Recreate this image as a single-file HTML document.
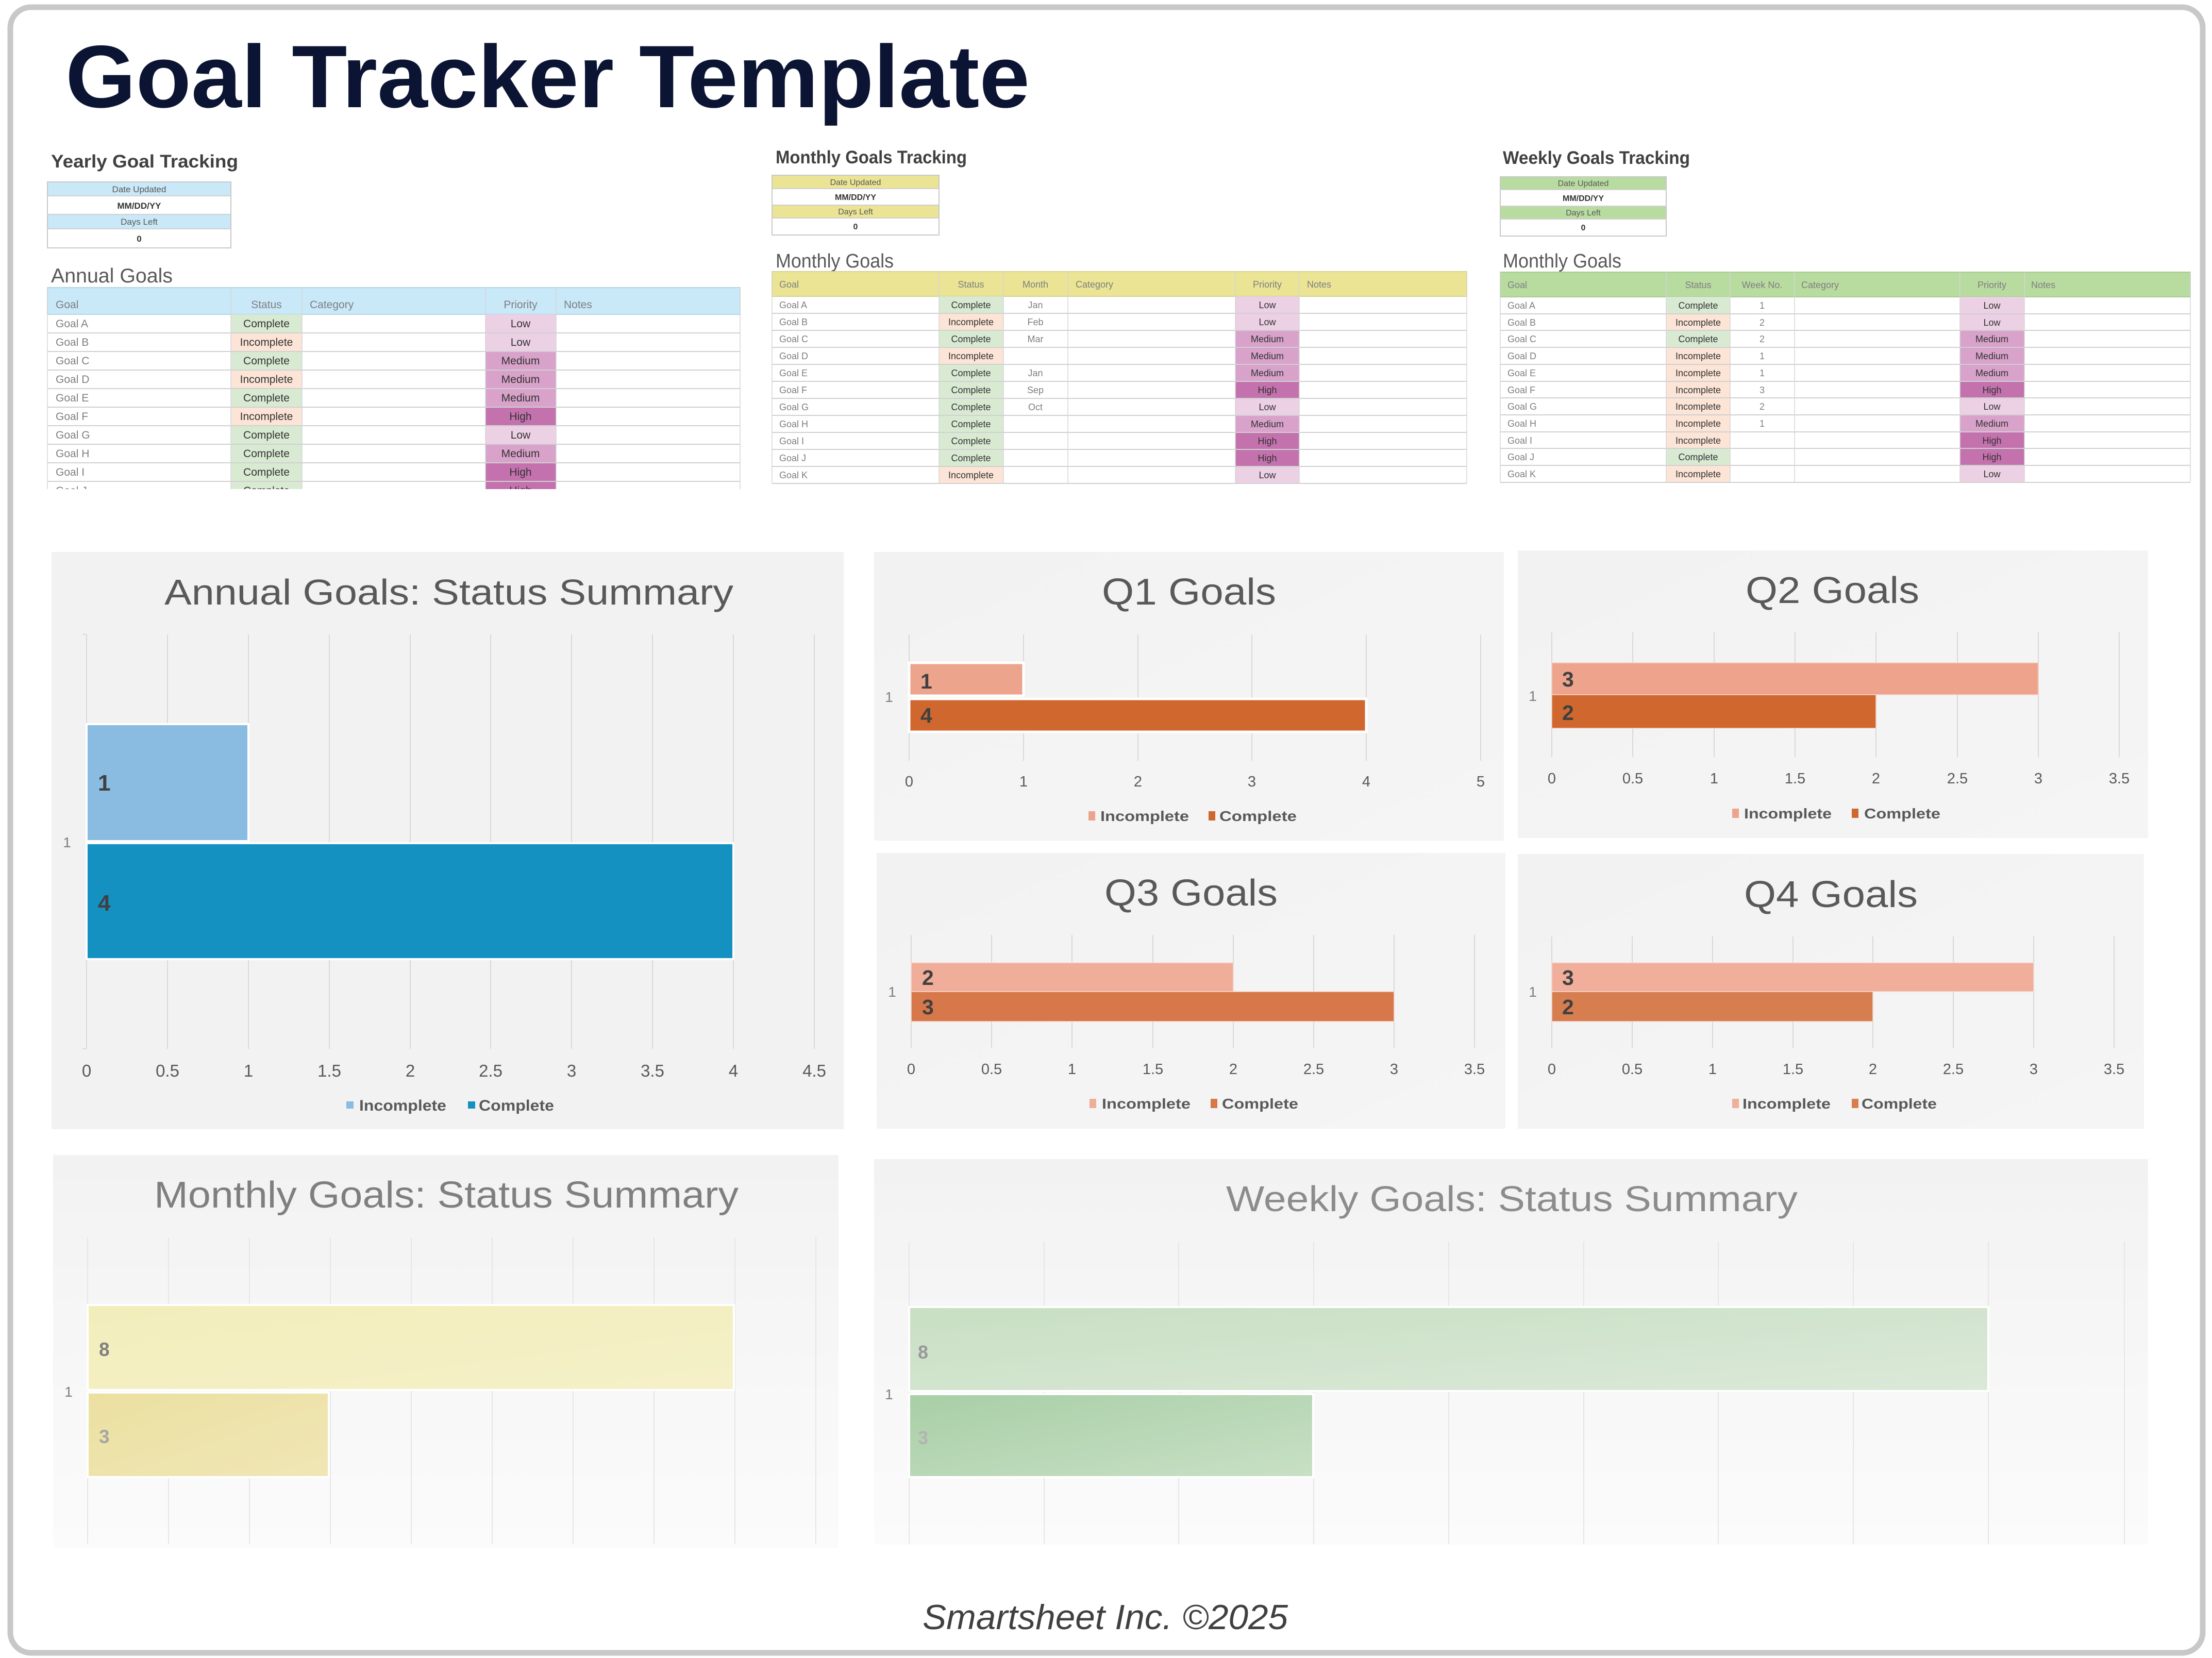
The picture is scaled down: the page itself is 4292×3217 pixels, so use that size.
<!DOCTYPE html>
<html><head><meta charset="utf-8"><style>
html,body{margin:0;padding:0;background:#fff}
svg{display:block}
text{font-family:"Liberation Sans",sans-serif}
.g{fill:#7f7f7f}.d{fill:#333}.c{text-anchor:middle}
.a{font-size:21px}.m{font-size:18px}.s{font-size:17px}
.cm{fill:#d9ead3}.in{fill:#fce4d6}.lo{fill:#ecd0e4}.me{fill:#d8a2ca}.hi{fill:#c472ae}
.gl{stroke:#d9d9d9;stroke-width:2}
.gl2{stroke:#e6e6e6;stroke-width:2}
.tk{font-size:33px;fill:#595959;text-anchor:middle}
.tq{font-size:29px;fill:#595959;text-anchor:middle}
.lg{font-size:30px;fill:#595959;font-weight:bold}
.lq{font-size:28px;fill:#595959;font-weight:bold}
.dl{font-weight:bold;fill:#404040}
.cat{font-size:28px;fill:#7f7f7f;text-anchor:middle}
.rl{stroke:#d0d0d0;stroke-width:2}
.vl{stroke:#d6d6d6;stroke-width:1.5}
</style></head><body>
<svg width="4292" height="3217" viewBox="0 0 4292 3217" xmlns="http://www.w3.org/2000/svg">
<defs>
<clipPath id="clipA"><rect x="0" y="0" width="1500" height="949"/></clipPath>
<linearGradient id="bgM" x1="0" y1="0" x2="0" y2="1"><stop offset="0" stop-color="#f2f2f2"/><stop offset="1" stop-color="#fbfbfb"/></linearGradient>
<linearGradient id="bgQ" x1="0" y1="0" x2="1" y2="1"><stop offset="0" stop-color="#f2f2f2"/><stop offset="1" stop-color="#f5f5f5"/></linearGradient>
<linearGradient id="mTop" x1="0" y1="0" x2="1" y2="1"><stop offset="0" stop-color="#f2eebb"/><stop offset="1" stop-color="#f5f0c8"/></linearGradient>
<linearGradient id="mBot" x1="0" y1="0" x2="1" y2="1"><stop offset="0" stop-color="#ebe0a0"/><stop offset="1" stop-color="#f0e6b6"/></linearGradient>
<linearGradient id="wTop" x1="0" y1="0" x2="1" y2="1"><stop offset="0" stop-color="#c8dfc3"/><stop offset="1" stop-color="#dbe9d8"/></linearGradient>
<linearGradient id="wBot" x1="0" y1="0" x2="1" y2="1"><stop offset="0" stop-color="#a8cfa6"/><stop offset="1" stop-color="#c8e0c5"/></linearGradient>
</defs>

<!-- outer border -->
<rect x="20" y="14" width="4254" height="3193" rx="40" ry="40" fill="#fff" stroke="#c8c8c8" stroke-width="11"/>

<!-- main title -->
<text x="127" y="208" font-size="172" font-weight="bold" fill="#0b1533" textLength="1871" lengthAdjust="spacingAndGlyphs">Goal Tracker Template</text>

<!-- ================= YEARLY ================= -->
<text x="99" y="325" font-size="35" font-weight="bold" fill="#404040" textLength="363" lengthAdjust="spacingAndGlyphs">Yearly Goal Tracking</text>
<rect x="92" y="353" width="356" height="27" fill="#c9e8f8"/>
<rect x="92" y="416" width="356" height="28" fill="#c9e8f8"/>
<rect x="92" y="353" width="356" height="128" fill="none" stroke="#c8c8c8" stroke-width="2"/>
<line x1="92" y1="380" x2="448" y2="380" class="rl"/><line x1="92" y1="416" x2="448" y2="416" class="rl"/><line x1="92" y1="444" x2="448" y2="444" class="rl"/>
<text x="270" y="373" class="s c" fill="#595959">Date Updated</text>
<text x="270" y="405" class="s c d" font-weight="bold">MM/DD/YY</text>
<text x="270" y="436" class="s c" fill="#595959">Days Left</text>
<text x="270" y="469" class="s c d" font-weight="bold">0</text>

<text x="99" y="548" font-size="39" fill="#595959" textLength="236" lengthAdjust="spacingAndGlyphs">Annual Goals</text>
<g clip-path="url(#clipA)">
<rect x="92" y="558" width="1344" height="52" fill="#c9e8f8" stroke="#b5d6e8" stroke-width="2"/>
<text x="108" y="598" class="a g">Goal</text>
<text x="517" y="598" class="a g c">Status</text>
<text x="601" y="598" class="a g">Category</text>
<text x="1010" y="598" class="a g c">Priority</text>
<text x="1094" y="598" class="a g">Notes</text>
<!-- rows -->
<rect x="448" y="610" width="138" height="36" class="cm"/><rect x="942" y="610" width="137" height="36" class="lo"/>
<rect x="448" y="646" width="138" height="36" class="in"/><rect x="942" y="646" width="137" height="36" class="lo"/>
<rect x="448" y="682" width="138" height="36" class="cm"/><rect x="942" y="682" width="137" height="36" class="me"/>
<rect x="448" y="718" width="138" height="36" class="in"/><rect x="942" y="718" width="137" height="36" class="me"/>
<rect x="448" y="754" width="138" height="36" class="cm"/><rect x="942" y="754" width="137" height="36" class="me"/>
<rect x="448" y="790" width="138" height="36" class="in"/><rect x="942" y="790" width="137" height="36" class="hi"/>
<rect x="448" y="826" width="138" height="36" class="cm"/><rect x="942" y="826" width="137" height="36" class="lo"/>
<rect x="448" y="862" width="138" height="36" class="cm"/><rect x="942" y="862" width="137" height="36" class="me"/>
<rect x="448" y="898" width="138" height="36" class="cm"/><rect x="942" y="898" width="137" height="36" class="hi"/>
<rect x="448" y="934" width="138" height="36" class="cm"/><rect x="942" y="934" width="137" height="36" class="hi"/>
<g class="a">
<text x="108" y="635" class="a g">Goal A</text><text x="517" y="635" class="a d c">Complete</text><text x="1010" y="635" class="a d c">Low</text>
<text x="108" y="671" class="a g">Goal B</text><text x="517" y="671" class="a d c">Incomplete</text><text x="1010" y="671" class="a d c">Low</text>
<text x="108" y="707" class="a g">Goal C</text><text x="517" y="707" class="a d c">Complete</text><text x="1010" y="707" class="a d c">Medium</text>
<text x="108" y="743" class="a g">Goal D</text><text x="517" y="743" class="a d c">Incomplete</text><text x="1010" y="743" class="a d c">Medium</text>
<text x="108" y="779" class="a g">Goal E</text><text x="517" y="779" class="a d c">Complete</text><text x="1010" y="779" class="a d c">Medium</text>
<text x="108" y="815" class="a g">Goal F</text><text x="517" y="815" class="a d c">Incomplete</text><text x="1010" y="815" class="a d c">High</text>
<text x="108" y="851" class="a g">Goal G</text><text x="517" y="851" class="a d c">Complete</text><text x="1010" y="851" class="a d c">Low</text>
<text x="108" y="887" class="a g">Goal H</text><text x="517" y="887" class="a d c">Complete</text><text x="1010" y="887" class="a d c">Medium</text>
<text x="108" y="923" class="a g">Goal I</text><text x="517" y="923" class="a d c">Complete</text><text x="1010" y="923" class="a d c">High</text>
<text x="108" y="959" class="a g">Goal J</text><text x="517" y="959" class="a d c">Complete</text><text x="1010" y="959" class="a d c">High</text>
</g>
<line x1="92" y1="646" x2="1436" y2="646" class="rl"/><line x1="92" y1="682" x2="1436" y2="682" class="rl"/>
<line x1="92" y1="718" x2="1436" y2="718" class="rl"/><line x1="92" y1="754" x2="1436" y2="754" class="rl"/>
<line x1="92" y1="790" x2="1436" y2="790" class="rl"/><line x1="92" y1="826" x2="1436" y2="826" class="rl"/>
<line x1="92" y1="862" x2="1436" y2="862" class="rl"/><line x1="92" y1="898" x2="1436" y2="898" class="rl"/>
<line x1="92" y1="934" x2="1436" y2="934" class="rl"/>
<line x1="92" y1="558" x2="92" y2="970" class="vl"/><line x1="448" y1="558" x2="448" y2="970" class="vl"/>
<line x1="586" y1="558" x2="586" y2="970" class="vl"/><line x1="942" y1="558" x2="942" y2="970" class="vl"/>
<line x1="1079" y1="558" x2="1079" y2="970" class="vl"/><line x1="1436" y1="558" x2="1436" y2="970" class="vl"/>
</g>

<!-- ================= MONTHLY ================= -->
<text x="1505" y="317" font-size="35" font-weight="bold" fill="#404040" textLength="371" lengthAdjust="spacingAndGlyphs">Monthly Goals Tracking</text>
<rect x="1498" y="340" width="324" height="26" fill="#eae494"/>
<rect x="1498" y="398" width="324" height="25" fill="#eae494"/>
<rect x="1498" y="340" width="324" height="116" fill="none" stroke="#c8c8c8" stroke-width="2"/>
<line x1="1498" y1="366" x2="1822" y2="366" class="rl"/><line x1="1498" y1="398" x2="1822" y2="398" class="rl"/><line x1="1498" y1="423" x2="1822" y2="423" class="rl"/>
<text x="1660" y="359" font-size="16" class="c" fill="#595959">Date Updated</text>
<text x="1660" y="388" font-size="16" class="c d" font-weight="bold">MM/DD/YY</text>
<text x="1660" y="416" font-size="16" class="c" fill="#595959">Days Left</text>
<text x="1660" y="445" font-size="16" class="c d" font-weight="bold">0</text>

<text x="1505" y="519" font-size="38" fill="#595959" textLength="229" lengthAdjust="spacingAndGlyphs">Monthly Goals</text>
<rect x="1498" y="527" width="1348" height="48" fill="#eae494" stroke="#d8d290" stroke-width="2"/>
<text x="1512" y="558" class="m g">Goal</text>
<text x="1884" y="558" class="m g c">Status</text>
<text x="2009" y="558" class="m g c">Month</text>
<text x="2087" y="558" class="m g">Category</text>
<text x="2459" y="558" class="m g c">Priority</text>
<text x="2536" y="558" class="m g">Notes</text>

<rect x="1822" y="575" width="125" height="33" class="cm"/><rect x="2397" y="575" width="124" height="33" class="lo"/>
<rect x="1822" y="608" width="125" height="33" class="in"/><rect x="2397" y="608" width="124" height="33" class="lo"/>
<rect x="1822" y="641" width="125" height="33" class="cm"/><rect x="2397" y="641" width="124" height="33" class="me"/>
<rect x="1822" y="674" width="125" height="33" class="in"/><rect x="2397" y="674" width="124" height="33" class="me"/>
<rect x="1822" y="707" width="125" height="33" class="cm"/><rect x="2397" y="707" width="124" height="33" class="me"/>
<rect x="1822" y="740" width="125" height="33" class="cm"/><rect x="2397" y="740" width="124" height="33" class="hi"/>
<rect x="1822" y="773" width="125" height="33" class="cm"/><rect x="2397" y="773" width="124" height="33" class="lo"/>
<rect x="1822" y="806" width="125" height="33" class="cm"/><rect x="2397" y="806" width="124" height="33" class="me"/>
<rect x="1822" y="839" width="125" height="33" class="cm"/><rect x="2397" y="839" width="124" height="33" class="hi"/>
<rect x="1822" y="872" width="125" height="33" class="cm"/><rect x="2397" y="872" width="124" height="33" class="hi"/>
<rect x="1822" y="905" width="125" height="33" class="in"/><rect x="2397" y="905" width="124" height="33" class="lo"/>

<text x="1512" y="598" class="m g">Goal A</text><text x="1884" y="598" class="m d c">Complete</text><text x="2009" y="598" class="m g c">Jan</text><text x="2459" y="598" class="m d c">Low</text>
<text x="1512" y="631" class="m g">Goal B</text><text x="1884" y="631" class="m d c">Incomplete</text><text x="2009" y="631" class="m g c">Feb</text><text x="2459" y="631" class="m d c">Low</text>
<text x="1512" y="664" class="m g">Goal C</text><text x="1884" y="664" class="m d c">Complete</text><text x="2009" y="664" class="m g c">Mar</text><text x="2459" y="664" class="m d c">Medium</text>
<text x="1512" y="697" class="m g">Goal D</text><text x="1884" y="697" class="m d c">Incomplete</text><text x="2459" y="697" class="m d c">Medium</text>
<text x="1512" y="730" class="m g">Goal E</text><text x="1884" y="730" class="m d c">Complete</text><text x="2009" y="730" class="m g c">Jan</text><text x="2459" y="730" class="m d c">Medium</text>
<text x="1512" y="763" class="m g">Goal F</text><text x="1884" y="763" class="m d c">Complete</text><text x="2009" y="763" class="m g c">Sep</text><text x="2459" y="763" class="m d c">High</text>
<text x="1512" y="796" class="m g">Goal G</text><text x="1884" y="796" class="m d c">Complete</text><text x="2009" y="796" class="m g c">Oct</text><text x="2459" y="796" class="m d c">Low</text>
<text x="1512" y="829" class="m g">Goal H</text><text x="1884" y="829" class="m d c">Complete</text><text x="2459" y="829" class="m d c">Medium</text>
<text x="1512" y="862" class="m g">Goal I</text><text x="1884" y="862" class="m d c">Complete</text><text x="2459" y="862" class="m d c">High</text>
<text x="1512" y="895" class="m g">Goal J</text><text x="1884" y="895" class="m d c">Complete</text><text x="2459" y="895" class="m d c">High</text>
<text x="1512" y="928" class="m g">Goal K</text><text x="1884" y="928" class="m d c">Incomplete</text><text x="2459" y="928" class="m d c">Low</text>

<line x1="1498" y1="608" x2="2846" y2="608" class="rl"/><line x1="1498" y1="641" x2="2846" y2="641" class="rl"/>
<line x1="1498" y1="674" x2="2846" y2="674" class="rl"/><line x1="1498" y1="707" x2="2846" y2="707" class="rl"/>
<line x1="1498" y1="740" x2="2846" y2="740" class="rl"/><line x1="1498" y1="773" x2="2846" y2="773" class="rl"/>
<line x1="1498" y1="806" x2="2846" y2="806" class="rl"/><line x1="1498" y1="839" x2="2846" y2="839" class="rl"/>
<line x1="1498" y1="872" x2="2846" y2="872" class="rl"/><line x1="1498" y1="905" x2="2846" y2="905" class="rl"/>
<line x1="1498" y1="938" x2="2846" y2="938" class="rl"/>
<line x1="1498" y1="527" x2="1498" y2="938" class="vl"/><line x1="1822" y1="527" x2="1822" y2="938" class="vl"/>
<line x1="1947" y1="527" x2="1947" y2="938" class="vl"/><line x1="2072" y1="527" x2="2072" y2="938" class="vl"/>
<line x1="2397" y1="527" x2="2397" y2="938" class="vl"/><line x1="2521" y1="527" x2="2521" y2="938" class="vl"/>
<line x1="2846" y1="527" x2="2846" y2="938" class="vl"/>

<!-- ================= WEEKLY ================= -->
<text x="2916" y="318" font-size="35" font-weight="bold" fill="#404040" textLength="363" lengthAdjust="spacingAndGlyphs">Weekly Goals Tracking</text>
<rect x="2911" y="343" width="322" height="25" fill="#b8dba0"/>
<rect x="2911" y="400" width="322" height="25" fill="#b8dba0"/>
<rect x="2911" y="343" width="322" height="115" fill="none" stroke="#c8c8c8" stroke-width="2"/>
<line x1="2911" y1="368" x2="3233" y2="368" class="rl"/><line x1="2911" y1="400" x2="3233" y2="400" class="rl"/><line x1="2911" y1="425" x2="3233" y2="425" class="rl"/>
<text x="3072" y="361" font-size="16" class="c" fill="#595959">Date Updated</text>
<text x="3072" y="390" font-size="16" class="c d" font-weight="bold">MM/DD/YY</text>
<text x="3072" y="418" font-size="16" class="c" fill="#595959">Days Left</text>
<text x="3072" y="447" font-size="16" class="c d" font-weight="bold">0</text>

<text x="2916" y="519" font-size="38" fill="#595959" textLength="230" lengthAdjust="spacingAndGlyphs">Monthly Goals</text>
<rect x="2911" y="528" width="1339" height="48" fill="#b8dba0" stroke="#a8cc92" stroke-width="2"/>
<text x="2925" y="559" class="m g">Goal</text>
<text x="3295" y="559" class="m g c">Status</text>
<text x="3419" y="559" class="m g c">Week No.</text>
<text x="3495" y="559" class="m g">Category</text>
<text x="3865" y="559" class="m g c">Priority</text>
<text x="3941" y="559" class="m g">Notes</text>

<rect x="3233" y="576" width="124" height="33" class="cm"/><rect x="3803" y="576" width="125" height="33" class="lo"/>
<rect x="3233" y="609" width="124" height="32" class="in"/><rect x="3803" y="609" width="125" height="32" class="lo"/>
<rect x="3233" y="641" width="124" height="33" class="cm"/><rect x="3803" y="641" width="125" height="33" class="me"/>
<rect x="3233" y="674" width="124" height="33" class="in"/><rect x="3803" y="674" width="125" height="33" class="me"/>
<rect x="3233" y="707" width="124" height="33" class="in"/><rect x="3803" y="707" width="125" height="33" class="me"/>
<rect x="3233" y="740" width="124" height="32" class="in"/><rect x="3803" y="740" width="125" height="32" class="hi"/>
<rect x="3233" y="772" width="124" height="33" class="in"/><rect x="3803" y="772" width="125" height="33" class="lo"/>
<rect x="3233" y="805" width="124" height="33" class="in"/><rect x="3803" y="805" width="125" height="33" class="me"/>
<rect x="3233" y="838" width="124" height="32" class="in"/><rect x="3803" y="838" width="125" height="32" class="hi"/>
<rect x="3233" y="870" width="124" height="33" class="cm"/><rect x="3803" y="870" width="125" height="33" class="hi"/>
<rect x="3233" y="903" width="124" height="33" class="in"/><rect x="3803" y="903" width="125" height="33" class="lo"/>

<text x="2925" y="599" class="m g">Goal A</text><text x="3295" y="599" class="m d c">Complete</text><text x="3419" y="599" class="m g c">1</text><text x="3865" y="599" class="m d c">Low</text>
<text x="2925" y="632" class="m g">Goal B</text><text x="3295" y="632" class="m d c">Incomplete</text><text x="3419" y="632" class="m g c">2</text><text x="3865" y="632" class="m d c">Low</text>
<text x="2925" y="664" class="m g">Goal C</text><text x="3295" y="664" class="m d c">Complete</text><text x="3419" y="664" class="m g c">2</text><text x="3865" y="664" class="m d c">Medium</text>
<text x="2925" y="697" class="m g">Goal D</text><text x="3295" y="697" class="m d c">Incomplete</text><text x="3419" y="697" class="m g c">1</text><text x="3865" y="697" class="m d c">Medium</text>
<text x="2925" y="730" class="m g">Goal E</text><text x="3295" y="730" class="m d c">Incomplete</text><text x="3419" y="730" class="m g c">1</text><text x="3865" y="730" class="m d c">Medium</text>
<text x="2925" y="763" class="m g">Goal F</text><text x="3295" y="763" class="m d c">Incomplete</text><text x="3419" y="763" class="m g c">3</text><text x="3865" y="763" class="m d c">High</text>
<text x="2925" y="795" class="m g">Goal G</text><text x="3295" y="795" class="m d c">Incomplete</text><text x="3419" y="795" class="m g c">2</text><text x="3865" y="795" class="m d c">Low</text>
<text x="2925" y="828" class="m g">Goal H</text><text x="3295" y="828" class="m d c">Incomplete</text><text x="3419" y="828" class="m g c">1</text><text x="3865" y="828" class="m d c">Medium</text>
<text x="2925" y="861" class="m g">Goal I</text><text x="3295" y="861" class="m d c">Incomplete</text><text x="3865" y="861" class="m d c">High</text>
<text x="2925" y="893" class="m g">Goal J</text><text x="3295" y="893" class="m d c">Complete</text><text x="3865" y="893" class="m d c">High</text>
<text x="2925" y="926" class="m g">Goal K</text><text x="3295" y="926" class="m d c">Incomplete</text><text x="3865" y="926" class="m d c">Low</text>

<line x1="2911" y1="609" x2="4250" y2="609" class="rl"/><line x1="2911" y1="641" x2="4250" y2="641" class="rl"/>
<line x1="2911" y1="674" x2="4250" y2="674" class="rl"/><line x1="2911" y1="707" x2="4250" y2="707" class="rl"/>
<line x1="2911" y1="740" x2="4250" y2="740" class="rl"/><line x1="2911" y1="772" x2="4250" y2="772" class="rl"/>
<line x1="2911" y1="805" x2="4250" y2="805" class="rl"/><line x1="2911" y1="838" x2="4250" y2="838" class="rl"/>
<line x1="2911" y1="870" x2="4250" y2="870" class="rl"/><line x1="2911" y1="903" x2="4250" y2="903" class="rl"/>
<line x1="2911" y1="936" x2="4250" y2="936" class="rl"/>
<line x1="2911" y1="528" x2="2911" y2="936" class="vl"/><line x1="3233" y1="528" x2="3233" y2="936" class="vl"/>
<line x1="3357" y1="528" x2="3357" y2="936" class="vl"/><line x1="3482" y1="528" x2="3482" y2="936" class="vl"/>
<line x1="3803" y1="528" x2="3803" y2="936" class="vl"/><line x1="3928" y1="528" x2="3928" y2="936" class="vl"/>
<line x1="4250" y1="528" x2="4250" y2="936" class="vl"/>

<!-- ================= ANNUAL CHART ================= -->
<rect x="100" y="1071" width="1537" height="1120" fill="#f2f2f2"/>
<text x="319" y="1173" font-size="70" fill="#595959" textLength="1104" lengthAdjust="spacingAndGlyphs">Annual Goals: Status Summary</text>
<g class="gl">
<line x1="168" y1="1231" x2="168" y2="2035"/><line x1="325" y1="1231" x2="325" y2="2035"/>
<line x1="482" y1="1231" x2="482" y2="2035"/><line x1="639" y1="1231" x2="639" y2="2035"/>
<line x1="796" y1="1231" x2="796" y2="2035"/><line x1="952" y1="1231" x2="952" y2="2035"/>
<line x1="1109" y1="1231" x2="1109" y2="2035"/><line x1="1266" y1="1231" x2="1266" y2="2035"/>
<line x1="1423" y1="1231" x2="1423" y2="2035"/><line x1="1580" y1="1231" x2="1580" y2="2035"/>
<line x1="160" y1="1231" x2="168" y2="1231"/><line x1="160" y1="2035" x2="168" y2="2035"/>
</g>
<rect x="168" y="1405" width="314" height="227" fill="#8abbe0" stroke="#fff" stroke-width="4"/>
<rect x="168" y="1636" width="1255" height="225" fill="#1591c1" stroke="#fff" stroke-width="4"/>
<text x="190" y="1534" font-size="44" class="dl">1</text>
<text x="190" y="1767" font-size="44" class="dl">4</text>
<text x="130" y="1644" class="cat">1</text>
<text x="168" y="2089" class="tk">0</text><text x="325" y="2089" class="tk">0.5</text>
<text x="482" y="2089" class="tk">1</text><text x="639" y="2089" class="tk">1.5</text>
<text x="796" y="2089" class="tk">2</text><text x="952" y="2089" class="tk">2.5</text>
<text x="1109" y="2089" class="tk">3</text><text x="1266" y="2089" class="tk">3.5</text>
<text x="1423" y="2089" class="tk">4</text><text x="1580" y="2089" class="tk">4.5</text>
<rect x="672" y="2137" width="14" height="14" fill="#8abbe0"/>
<text x="697" y="2155" class="lg" textLength="169" lengthAdjust="spacingAndGlyphs">Incomplete</text>
<rect x="908" y="2137" width="14" height="14" fill="#1591c1"/>
<text x="929" y="2155" class="lg" textLength="146" lengthAdjust="spacingAndGlyphs">Complete</text>

<!-- ================= Q1 ================= -->
<rect x="1696" y="1071" width="1222" height="560" fill="url(#bgQ)"/>
<text x="2138" y="1173" font-size="72" fill="#595959" textLength="338" lengthAdjust="spacingAndGlyphs">Q1 Goals</text>
<g class="gl">
<line x1="1764" y1="1231" x2="1764" y2="1476"/><line x1="1986" y1="1231" x2="1986" y2="1476"/>
<line x1="2208" y1="1231" x2="2208" y2="1476"/><line x1="2429" y1="1231" x2="2429" y2="1476"/>
<line x1="2651" y1="1231" x2="2651" y2="1476"/><line x1="2873" y1="1231" x2="2873" y2="1476"/>
</g>
<rect x="1764" y="1286" width="222" height="64" fill="#eda48d" stroke="#fff" stroke-width="5"/>
<rect x="1764" y="1356" width="887" height="64" fill="#d0672f" stroke="#fff" stroke-width="5"/>
<text x="1786" y="1336" font-size="41" class="dl">1</text>
<text x="1786" y="1402" font-size="41" class="dl">4</text>
<text x="1725" y="1362" class="cat">1</text>
<text x="1764" y="1526" class="tq">0</text><text x="1986" y="1526" class="tq">1</text>
<text x="2208" y="1526" class="tq">2</text><text x="2429" y="1526" class="tq">3</text>
<text x="2651" y="1526" class="tq">4</text><text x="2873" y="1526" class="tq">5</text>
<rect x="2112" y="1574" width="13" height="18" fill="#eda48d"/>
<text x="2135" y="1593" class="lq" textLength="172" lengthAdjust="spacingAndGlyphs">Incomplete</text>
<rect x="2345" y="1574" width="13" height="18" fill="#d0672f"/>
<text x="2366" y="1593" class="lq" textLength="150" lengthAdjust="spacingAndGlyphs">Complete</text>

<!-- ================= Q2 ================= -->
<rect x="2945" y="1068" width="1223" height="558" fill="url(#bgQ)"/>
<text x="3387" y="1170" font-size="72" fill="#595959" textLength="337" lengthAdjust="spacingAndGlyphs">Q2 Goals</text>
<g class="gl">
<line x1="3011" y1="1227" x2="3011" y2="1469"/><line x1="3168" y1="1227" x2="3168" y2="1469"/>
<line x1="3326" y1="1227" x2="3326" y2="1469"/><line x1="3483" y1="1227" x2="3483" y2="1469"/>
<line x1="3640" y1="1227" x2="3640" y2="1469"/><line x1="3798" y1="1227" x2="3798" y2="1469"/>
<line x1="3955" y1="1227" x2="3955" y2="1469"/><line x1="4112" y1="1227" x2="4112" y2="1469"/>
</g>
<rect x="3011" y="1286" width="944" height="62" fill="#eea48c" stroke="#f6d6cb" stroke-width="1.5"/>
<rect x="3011" y="1348" width="629" height="65" fill="#d0672f" stroke="#f6d6cb" stroke-width="1.5"/>
<text x="3031" y="1332" font-size="41" class="dl">3</text>
<text x="3031" y="1397" font-size="41" class="dl">2</text>
<text x="2974" y="1360" class="cat">1</text>
<text x="3011" y="1520" class="tq">0</text><text x="3168" y="1520" class="tq">0.5</text>
<text x="3326" y="1520" class="tq">1</text><text x="3483" y="1520" class="tq">1.5</text>
<text x="3640" y="1520" class="tq">2</text><text x="3798" y="1520" class="tq">2.5</text>
<text x="3955" y="1520" class="tq">3</text><text x="4112" y="1520" class="tq">3.5</text>
<rect x="3361" y="1569" width="13" height="18" fill="#eea48c"/>
<text x="3384" y="1588" class="lq" textLength="170" lengthAdjust="spacingAndGlyphs">Incomplete</text>
<rect x="3593" y="1569" width="13" height="18" fill="#d0672f"/>
<text x="3617" y="1588" class="lq" textLength="148" lengthAdjust="spacingAndGlyphs">Complete</text>

<!-- ================= Q3 ================= -->
<rect x="1701" y="1655" width="1220" height="535" fill="url(#bgQ)"/>
<text x="2143" y="1757" font-size="72" fill="#595959" textLength="336" lengthAdjust="spacingAndGlyphs">Q3 Goals</text>
<g class="gl">
<line x1="1768" y1="1814" x2="1768" y2="2033"/><line x1="1924" y1="1814" x2="1924" y2="2033"/>
<line x1="2080" y1="1814" x2="2080" y2="2033"/><line x1="2237" y1="1814" x2="2237" y2="2033"/>
<line x1="2393" y1="1814" x2="2393" y2="2033"/><line x1="2549" y1="1814" x2="2549" y2="2033"/>
<line x1="2705" y1="1814" x2="2705" y2="2033"/><line x1="2861" y1="1814" x2="2861" y2="2033"/>
</g>
<rect x="1768" y="1868" width="625" height="56" fill="#f0ad99" stroke="#f7ddd4" stroke-width="1.5"/>
<rect x="1768" y="1924" width="937" height="58" fill="#d7784a" stroke="#f7ddd4" stroke-width="1.5"/>
<text x="1789" y="1911" font-size="41" class="dl">2</text>
<text x="1789" y="1968" font-size="41" class="dl">3</text>
<text x="1731" y="1934" class="cat">1</text>
<text x="1768" y="2084" class="tq">0</text><text x="1924" y="2084" class="tq">0.5</text>
<text x="2080" y="2084" class="tq">1</text><text x="2237" y="2084" class="tq">1.5</text>
<text x="2393" y="2084" class="tq">2</text><text x="2549" y="2084" class="tq">2.5</text>
<text x="2705" y="2084" class="tq">3</text><text x="2861" y="2084" class="tq">3.5</text>
<rect x="2114" y="2132" width="13" height="18" fill="#f0ad99"/>
<text x="2138" y="2151" class="lq" textLength="172" lengthAdjust="spacingAndGlyphs">Incomplete</text>
<rect x="2349" y="2132" width="13" height="18" fill="#d7784a"/>
<text x="2371" y="2151" class="lq" textLength="148" lengthAdjust="spacingAndGlyphs">Complete</text>

<!-- ================= Q4 ================= -->
<rect x="2945" y="1657" width="1215" height="533" fill="url(#bgQ)"/>
<text x="3384" y="1760" font-size="72" fill="#595959" textLength="337" lengthAdjust="spacingAndGlyphs">Q4 Goals</text>
<g class="gl">
<line x1="3011" y1="1817" x2="3011" y2="2033"/><line x1="3167" y1="1817" x2="3167" y2="2033"/>
<line x1="3323" y1="1817" x2="3323" y2="2033"/><line x1="3479" y1="1817" x2="3479" y2="2033"/>
<line x1="3634" y1="1817" x2="3634" y2="2033"/><line x1="3790" y1="1817" x2="3790" y2="2033"/>
<line x1="3946" y1="1817" x2="3946" y2="2033"/><line x1="4102" y1="1817" x2="4102" y2="2033"/>
</g>
<rect x="3011" y="1868" width="935" height="56" fill="#f0ae9b" stroke="#f7ddd4" stroke-width="1.5"/>
<rect x="3011" y="1924" width="623" height="58" fill="#d77e51" stroke="#f7ddd4" stroke-width="1.5"/>
<text x="3031" y="1911" font-size="41" class="dl">3</text>
<text x="3031" y="1968" font-size="41" class="dl">2</text>
<text x="2974" y="1934" class="cat">1</text>
<text x="3011" y="2084" class="tq">0</text><text x="3167" y="2084" class="tq">0.5</text>
<text x="3323" y="2084" class="tq">1</text><text x="3479" y="2084" class="tq">1.5</text>
<text x="3634" y="2084" class="tq">2</text><text x="3790" y="2084" class="tq">2.5</text>
<text x="3946" y="2084" class="tq">3</text><text x="4102" y="2084" class="tq">3.5</text>
<rect x="3361" y="2132" width="13" height="18" fill="#f0ae9b"/>
<text x="3381" y="2151" class="lq" textLength="171" lengthAdjust="spacingAndGlyphs">Incomplete</text>
<rect x="3593" y="2132" width="13" height="18" fill="#d77e51"/>
<text x="3612" y="2151" class="lq" textLength="146" lengthAdjust="spacingAndGlyphs">Complete</text>

<!-- ================= MONTHLY SUMMARY ================= -->
<rect x="103" y="2241" width="1524" height="762" fill="url(#bgM)"/>
<text x="299" y="2343" font-size="72" fill="#7f7f7f" textLength="1134" lengthAdjust="spacingAndGlyphs">Monthly Goals: Status Summary</text>
<g class="gl2">
<line x1="170" y1="2401" x2="170" y2="2996"/><line x1="327" y1="2401" x2="327" y2="2996"/>
<line x1="484" y1="2401" x2="484" y2="2996"/><line x1="641" y1="2401" x2="641" y2="2996"/>
<line x1="798" y1="2401" x2="798" y2="2996"/><line x1="955" y1="2401" x2="955" y2="2996"/>
<line x1="1112" y1="2401" x2="1112" y2="2996"/><line x1="1269" y1="2401" x2="1269" y2="2996"/>
<line x1="1426" y1="2401" x2="1426" y2="2996"/><line x1="1583" y1="2401" x2="1583" y2="2996"/>
</g>
<rect x="170" y="2532" width="1254" height="165" fill="url(#mTop)" stroke="#fff" stroke-width="4"/>
<rect x="170" y="2702" width="468" height="164" fill="url(#mBot)" stroke="#fff" stroke-width="4"/>
<text x="192" y="2631" font-size="37" font-weight="bold" fill="#808080">8</text>
<text x="192" y="2800" font-size="37" font-weight="bold" fill="#a6a6a6">3</text>
<text x="133" y="2710" class="cat" fill="#a0a0a0">1</text>

<!-- ================= WEEKLY SUMMARY ================= -->
<rect x="1696" y="2249" width="2472" height="748" fill="url(#bgM)"/>
<text x="2379" y="2350" font-size="70" fill="#8c8c8c" textLength="1109" lengthAdjust="spacingAndGlyphs">Weekly Goals: Status Summary</text>
<g class="gl2">
<line x1="1764" y1="2409" x2="1764" y2="2996"/><line x1="2026" y1="2409" x2="2026" y2="2996"/>
<line x1="2287" y1="2409" x2="2287" y2="2996"/><line x1="2549" y1="2409" x2="2549" y2="2996"/>
<line x1="2811" y1="2409" x2="2811" y2="2996"/><line x1="3073" y1="2409" x2="3073" y2="2996"/>
<line x1="3334" y1="2409" x2="3334" y2="2996"/><line x1="3596" y1="2409" x2="3596" y2="2996"/>
<line x1="3858" y1="2409" x2="3858" y2="2996"/><line x1="4122" y1="2409" x2="4122" y2="2996"/>
</g>
<rect x="1764" y="2536" width="2094" height="163" fill="url(#wTop)" stroke="#fff" stroke-width="4"/>
<rect x="1764" y="2705" width="784" height="161" fill="url(#wBot)" stroke="#fff" stroke-width="4"/>
<text x="1781" y="2636" font-size="36" font-weight="bold" fill="#999">8</text>
<text x="1781" y="2802" font-size="36" font-weight="bold" fill="#b3b3b3">3</text>
<text x="1725" y="2715" class="cat" fill="#a6a6a6">1</text>

<!-- footer -->
<text x="1790" y="3161" font-size="68" font-style="italic" fill="#404040" textLength="709" lengthAdjust="spacingAndGlyphs">Smartsheet Inc. ©2025</text>
</svg>
</body></html>
